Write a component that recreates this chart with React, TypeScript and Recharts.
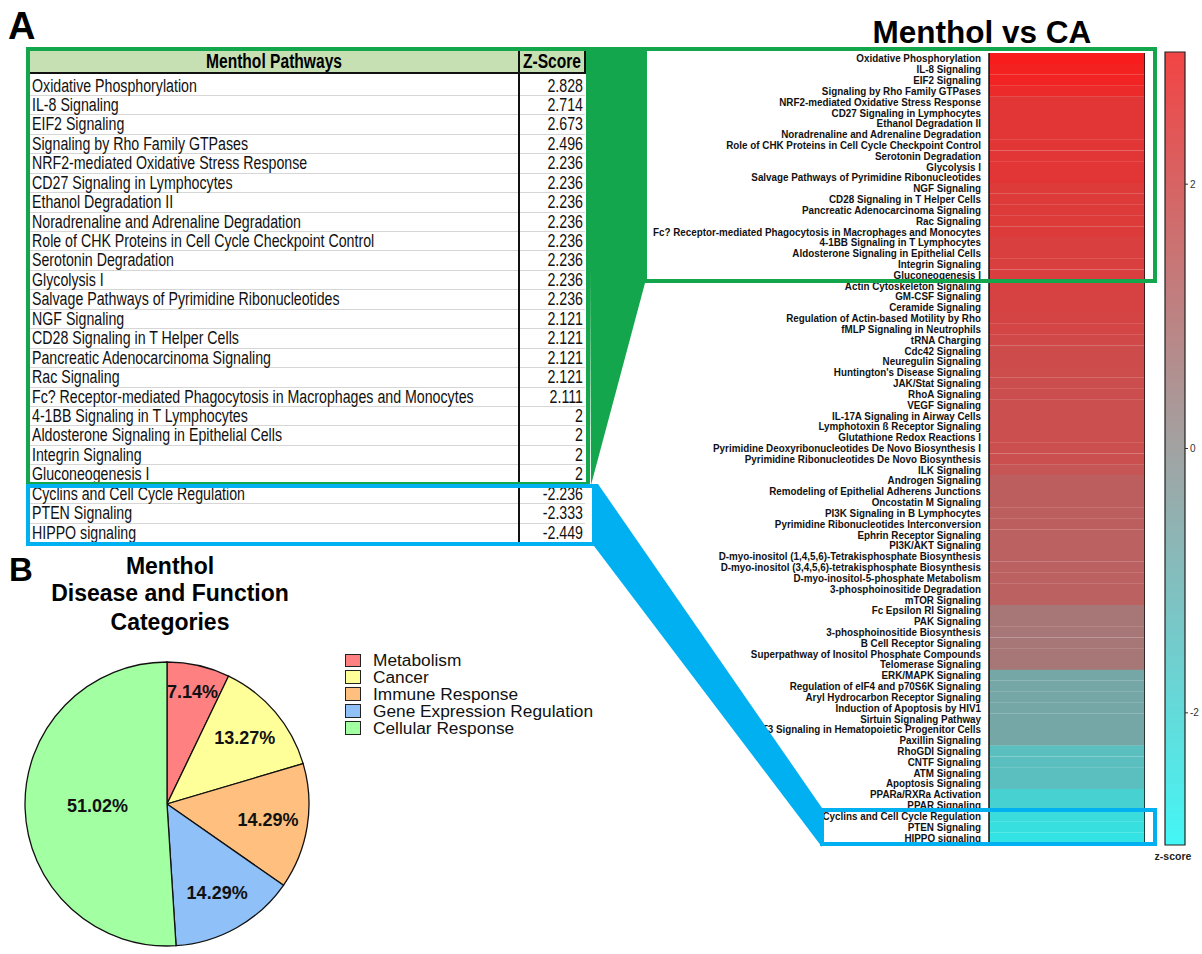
import React from "react";
import { Bar, BarChart, Cell, Pie, PieChart, ReferenceLine, XAxis, YAxis } from "recharts";

// ---- table (panel A, left) ----
const tablePathways = [
  "Oxidative Phosphorylation",
  "IL-8 Signaling",
  "EIF2 Signaling",
  "Signaling by Rho Family GTPases",
  "NRF2-mediated Oxidative Stress Response",
  "CD27 Signaling in Lymphocytes",
  "Ethanol Degradation II",
  "Noradrenaline and Adrenaline Degradation",
  "Role of CHK Proteins in Cell Cycle Checkpoint Control",
  "Serotonin Degradation",
  "Glycolysis I",
  "Salvage Pathways of Pyrimidine Ribonucleotides",
  "NGF Signaling",
  "CD28 Signaling in T Helper Cells",
  "Pancreatic Adenocarcinoma Signaling",
  "Rac Signaling",
  "Fc? Receptor-mediated Phagocytosis in Macrophages and Monocytes",
  "4-1BB Signaling in T Lymphocytes",
  "Aldosterone Signaling in Epithelial Cells",
  "Integrin Signaling",
  "Gluconeogenesis I",
  "Cyclins and Cell Cycle Regulation",
  "PTEN Signaling",
  "HIPPO signaling",
];
const tableZ = [
  "2.828", "2.714", "2.673", "2.496", "2.236", "2.236", "2.236", "2.236", "2.236", "2.236", "2.236", "2.236",
  "2.121", "2.121", "2.121", "2.121", "2.111", "2", "2", "2", "2", "-2.236", "-2.333", "-2.449",
];

// ---- heatmap (panel A, right) ----
const heatPathways = [
  "Oxidative Phosphorylation",
  "IL-8 Signaling",
  "EIF2 Signaling",
  "Signaling by Rho Family GTPases",
  "NRF2-mediated Oxidative Stress Response",
  "CD27 Signaling in Lymphocytes",
  "Ethanol Degradation II",
  "Noradrenaline and Adrenaline Degradation",
  "Role of CHK Proteins in Cell Cycle Checkpoint Control",
  "Serotonin Degradation",
  "Glycolysis I",
  "Salvage Pathways of Pyrimidine Ribonucleotides",
  "NGF Signaling",
  "CD28 Signaling in T Helper Cells",
  "Pancreatic Adenocarcinoma Signaling",
  "Rac Signaling",
  "Fc? Receptor-mediated Phagocytosis in Macrophages and Monocytes",
  "4-1BB Signaling in T Lymphocytes",
  "Aldosterone Signaling in Epithelial Cells",
  "Integrin Signaling",
  "Gluconeogenesis I",
  "Actin Cytoskeleton Signaling",
  "GM-CSF Signaling",
  "Ceramide Signaling",
  "Regulation of Actin-based Motility by Rho",
  "fMLP Signaling in Neutrophils",
  "tRNA Charging",
  "Cdc42 Signaling",
  "Neuregulin Signaling",
  "Huntington's Disease Signaling",
  "JAK/Stat Signaling",
  "RhoA Signaling",
  "VEGF Signaling",
  "IL-17A Signaling in Airway Cells",
  "Lymphotoxin ß Receptor Signaling",
  "Glutathione Redox Reactions I",
  "Pyrimidine Deoxyribonucleotides De Novo Biosynthesis I",
  "Pyrimidine Ribonucleotides De Novo Biosynthesis",
  "ILK Signaling",
  "Androgen Signaling",
  "Remodeling of Epithelial Adherens Junctions",
  "Oncostatin M Signaling",
  "PI3K Signaling in B Lymphocytes",
  "Pyrimidine Ribonucleotides Interconversion",
  "Ephrin Receptor Signaling",
  "PI3K/AKT Signaling",
  "D-myo-inositol (1,4,5,6)-Tetrakisphosphate Biosynthesis",
  "D-myo-inositol (3,4,5,6)-tetrakisphosphate Biosynthesis",
  "D-myo-inositol-5-phosphate Metabolism",
  "3-phosphoinositide Degradation",
  "mTOR Signaling",
  "Fc Epsilon RI Signaling",
  "PAK Signaling",
  "3-phosphoinositide Biosynthesis",
  "B Cell Receptor Signaling",
  "Superpathway of Inositol Phosphate Compounds",
  "Telomerase Signaling",
  "ERK/MAPK Signaling",
  "Regulation of eIF4 and p70S6K Signaling",
  "Aryl Hydrocarbon Receptor Signaling",
  "Induction of Apoptosis by HIV1",
  "Sirtuin Signaling Pathway",
  "FLT3 Signaling in Hematopoietic Progenitor Cells",
  "Paxillin Signaling",
  "RhoGDI Signaling",
  "CNTF Signaling",
  "ATM Signaling",
  "Apoptosis Signaling",
  "PPARa/RXRa Activation",
  "PPAR Signaling",
  "Cyclins and Cell Cycle Regulation",
  "PTEN Signaling",
  "HIPPO signaling",
];
const heatZ = [
  2.828, 2.714, 2.673, 2.496, 2.236, 2.236, 2.236, 2.236, 2.236, 2.236, 2.236, 2.236,
  2.121, 2.121, 2.121, 2.121, 2.111, 2, 2, 2, 2,
  1.964, 1.941, 1.941, 1.89, 1.877, 1.8, 1.732, 1.732, 1.7, 1.667, 1.667, 1.633, 1.633, 1.633, 1.633, 1.633, 1.633, 1.5,
  1.265, 1.265, 1.265, 1.265, 1.265,
  1.214, 1.214, 1.214, 1.214, 1.214, 1.214, 1.214,
  0.707, 0.707, 0.707, 0.707, 0.707, 0.707,
  -0.6, -0.6, -0.6, -0.6, -0.6, -0.6, -0.6,
  -1.342, -1.342, -1.342, -1.342,
  -1.89, -1.89,
  -2.236, -2.333, -2.449,
];
const colorbarDomain = [-3, 3];
const colorbarTicks = [-2, 0, 2];

// ---- pie (panel B) ----
const pieCategories = ["Metabolism", "Cancer", "Immune Response", "Gene Expression Regulation", "Cellular Response"];
const pieShares = [7.14, 13.27, 14.29, 14.29, 51.02];
const pieColors = ["#ff8080", "#ffff99", "#ffc07f", "#90c0f8", "#a2ffa2"];

const SANS = "'Liberation Sans', Arial, Helvetica, sans-serif";
const GREEN = "#14a64c";
const BLUE = "#00b0f0";

function heatColor(z: number) {
  const mid = [140, 148, 148];
  const end = z >= 0 ? [255, 21, 21] : [31, 245, 245];
  const t = Math.min(1, Math.abs(z) / 3);
  const c = mid.map((m, i) => Math.round(m + (end[i] - m) * t));
  return `rgb(${c[0]},${c[1]},${c[2]})`;
}

const heatData = heatPathways.map((name, i) => ({ name, z: heatZ[i], cell: 1 }));
const pieData = pieCategories.map((name, i) => ({ name, share: pieShares[i] }));
const barData = [{ name: "z", span: colorbarDomain }];

// labels in the source are condensed, so stretch them a bit vertically
function HeatTick(props: any) {
  const { x, y, payload } = props;
  return (
    <text
      transform={`translate(${x},${y}) scale(1,1.16)`}
      dy="0.35em"
      textAnchor="end"
      fontFamily={SANS}
      fontWeight={700}
      fontSize={9.85}
      fill="#111"
    >
      {payload.value}
    </text>
  );
}

function pieLabel(props: any) {
  const { cx, cy, midAngle, outerRadius, value } = props;
  const f = value < 10 ? 0.81 : value > 50 ? 0.49 : 0.72;
  const r = outerRadius * f;
  const rad = (Math.PI / 180) * midAngle;
  return (
    <text
      x={cx + r * Math.cos(rad)}
      y={cy - r * Math.sin(rad)}
      textAnchor="middle"
      dominantBaseline="central"
      fontFamily={SANS}
      fontWeight={700}
      fontSize={18}
      fill="#111"
    >
      {value.toFixed(2)}%
    </text>
  );
}

const ROW_TOP = 76.5;
const ROW_H = 19.44;
const stretch = { display: "inline-block", transform: "scaleY(1.28)", transformOrigin: "50% 55%" };

function PathwayTable() {
  return (
    <>
      <div
        style={{
          position: "absolute", left: 30, top: 51, width: 555, height: 23, boxSizing: "border-box",
          background: "#c6e0b4", borderBottom: "2px solid #111", fontWeight: 700, fontSize: 15.6, whiteSpace: "nowrap",
        }}
      >
        <div style={{ position: "absolute", left: 0, width: 488, top: 0, lineHeight: "21px", textAlign: "center" }}>
          <span style={stretch}>Menthol Pathways</span>
        </div>
        <div style={{ position: "absolute", left: 489, width: 66, top: 0, lineHeight: "21px", textAlign: "center" }}>
          <span style={stretch}>Z-Score</span>
        </div>
      </div>
      {tablePathways.map((p, i) => (
        <div
          key={p}
          style={{
            position: "absolute", left: 30, top: ROW_TOP + i * ROW_H, width: 555, height: ROW_H, boxSizing: "border-box",
            borderBottom: "1px solid #d6d6d6", fontSize: 14.2, color: "#111", whiteSpace: "nowrap",
          }}
        >
          <div style={{ position: "absolute", left: 2, top: 0, lineHeight: `${ROW_H}px` }}>
            <span style={stretch}>{p}</span>
          </div>
          <div style={{ position: "absolute", right: 2, top: 0, lineHeight: `${ROW_H}px` }}>
            <span style={stretch}>{tableZ[i]}</span>
          </div>
        </div>
      ))}
      <div style={{ position: "absolute", left: 518, top: 51, width: 2, height: 493, background: "#111" }} />
      <div style={{ position: "absolute", left: 584, top: 51, width: 1.5, height: 23, background: "#111" }} />
    </>
  );
}

function Heatmap() {
  return (
    <div style={{ position: "absolute", left: 620, top: 40 }}>
      <BarChart
        width={525}
        height={810}
        data={heatData}
        layout="vertical"
        margin={{ top: 13, right: 0, bottom: 7, left: 0 }}
        barCategoryGap={0}
      >
        <XAxis type="number" domain={[0, 1]} hide />
        <YAxis type="category" dataKey="name" width={369} interval={0} axisLine={false} tickLine={false} tick={<HeatTick />} />
        <Bar dataKey="cell" isAnimationActive={false}>
          {heatData.map((d) => (
            <Cell key={d.name} fill={heatColor(d.z)} />
          ))}
        </Bar>
        <ReferenceLine x={0} stroke="#111" strokeWidth={1.5} />
        <ReferenceLine x={1} stroke="#111" strokeWidth={1.5} />
      </BarChart>
    </div>
  );
}

function ColorBar() {
  return (
    <div style={{ position: "absolute", left: 1160, top: 40 }}>
      <BarChart width={42} height={820} data={barData} margin={{ top: 12, right: 0, bottom: 15, left: 0 }} barCategoryGap={0}>
        <defs>
          <linearGradient id="zgrad" x1="0" y1="0" x2="0" y2="1">
            <stop offset="0%" stopColor="#f24444" />
            <stop offset="50%" stopColor="#a2a2a2" />
            <stop offset="100%" stopColor="#44f6f6" />
          </linearGradient>
        </defs>
        <XAxis dataKey="name" hide />
        <YAxis
          yAxisId="l"
          type="number"
          domain={colorbarDomain}
          ticks={colorbarTicks}
          orientation="left"
          width={5}
          tickSize={-3}
          tick={false}
          axisLine={false}
          tickLine={{ stroke: "#333" }}
        />
        <YAxis
          yAxisId="r"
          type="number"
          domain={colorbarDomain}
          ticks={colorbarTicks}
          orientation="right"
          width={17}
          tickSize={3}
          tickMargin={2}
          axisLine={false}
          tickLine={{ stroke: "#333" }}
          tick={{ fontSize: 10, fill: "#333", fontFamily: SANS }}
        />
        <Bar yAxisId="r" dataKey="span" fill="url(#zgrad)" stroke="#222" strokeWidth={1.2} isAnimationActive={false} />
      </BarChart>
    </div>
  );
}

function CategoryPie() {
  return (
    <div style={{ position: "absolute", left: 0, top: 643 }}>
      <PieChart width={336} height={320} margin={{ top: 0, right: 0, bottom: 0, left: 0 }}>
        <Pie
          data={pieData}
          dataKey="share"
          nameKey="name"
          cx={167}
          cy={161}
          outerRadius={142}
          startAngle={90}
          endAngle={-270}
          stroke="#111"
          strokeWidth={1.3}
          label={pieLabel}
          labelLine={false}
          isAnimationActive={false}
        >
          {pieData.map((d, i) => (
            <Cell key={d.name} fill={pieColors[i]} />
          ))}
        </Pie>
      </PieChart>
    </div>
  );
}

function PieLegend() {
  return (
    <>
      {pieCategories.map((c, i) => (
        <React.Fragment key={c}>
          <div
            style={{
              position: "absolute", left: 345, top: 653.5 + i * 16.9, width: 16, height: 13.5, boxSizing: "border-box",
              border: "1.5px solid #222", background: pieColors[i],
            }}
          />
          <div
            style={{
              position: "absolute", left: 373, top: 652 + i * 16.9, lineHeight: "16px",
              fontSize: 17.3, color: "#111", whiteSpace: "nowrap",
            }}
          >
            {c}
          </div>
        </React.Fragment>
      ))}
    </>
  );
}

function Overlay() {
  return (
    <svg width={1202} height={954} style={{ position: "absolute", left: 0, top: 0, pointerEvents: "none" }}>
      <polygon points="589,47 645,47 645,283 591,485" fill={GREEN} />
      <rect x={28} y={49} width={560} height={435} fill="none" stroke={GREEN} strokeWidth={4} />
      <rect x={645} y={49} width={510} height={232} fill="none" stroke={GREEN} strokeWidth={4} />
      <polygon points="594,484 598,484 822,808 822,847 594,546" fill={BLUE} />
      <rect x={28} y={486} width={566} height={58} fill="none" stroke={BLUE} strokeWidth={4} />
      <rect x={822} y={810} width={333} height={34} fill="none" stroke={BLUE} strokeWidth={4} />
      <text x={8} y={39} fontFamily={SANS} fontWeight={700} fontSize={38} fill="#000">A</text>
      <text x={9} y={581} fontFamily={SANS} fontWeight={700} fontSize={33} fill="#000">B</text>
      <text x={982} y={43} textAnchor="middle" fontFamily={SANS} fontWeight={700} fontSize={31.5} fill="#000">
        Menthol vs CA
      </text>
      <text x={1173} y={860} textAnchor="middle" fontFamily={SANS} fontWeight={700} fontSize={10.5} fill="#222">
        z-score
      </text>
      <g fontFamily={SANS} fontWeight={700} fontSize={23} fill="#000" textAnchor="middle">
        <text x={170} y={574}>Menthol</text>
        <text x={170} y={601}>Disease and Function</text>
        <text x={170} y={630}>Categories</text>
      </g>
    </svg>
  );
}

export default function App() {
  return (
    <div
      style={{
        position: "fixed", left: 0, top: 0, width: 1202, height: 954, overflow: "hidden",
        background: "#fff", fontFamily: SANS,
      }}
    >
      <PathwayTable />
      <Heatmap />
      <ColorBar />
      <CategoryPie />
      <PieLegend />
      <Overlay />
    </div>
  );
}
